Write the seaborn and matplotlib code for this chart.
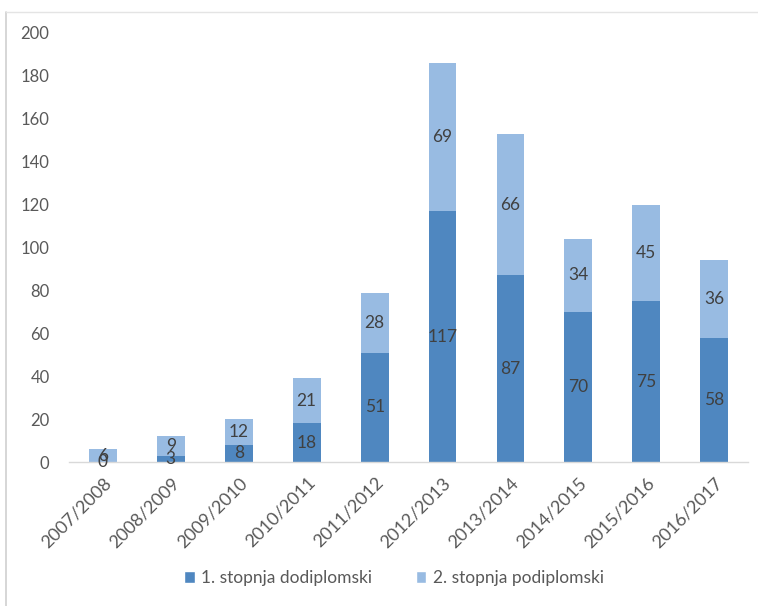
import pandas as pd
import matplotlib
matplotlib.use("Agg")
import matplotlib.pyplot as plt
from matplotlib.lines import Line2D
from matplotlib.patches import Patch
import seaborn as sns

# Chart data
years = ['2007/2008', '2008/2009', '2009/2010', '2010/2011', '2011/2012',
         '2012/2013', '2013/2014', '2014/2015', '2015/2016', '2016/2017']
dodiplomski = [0, 3, 8, 18, 51, 117, 87, 70, 75, 58]
podiplomski = [6, 9, 12, 21, 28, 69, 66, 34, 45, 36]
series_names = ['1. stopnja dodiplomski', '2. stopnja podiplomski']

dark_blue = '#4F87C0'
light_blue = '#98BBE2'

sns.set_theme(style="white")
plt.rcParams['font.family'] = ['Lato', 'DejaVu Sans']

df = pd.DataFrame({'year': years, 'dod': dodiplomski, 'pod': podiplomski})
df['total'] = df['dod'] + df['pod']

fig = plt.figure(figsize=(7.58, 6.06), dpi=100)
ax = fig.add_axes([0.091, 0.2376, 0.896, 0.708])

# stacked bars: total in light colour, first level drawn on top
sns.barplot(data=df, x='year', y='total', color=light_blue, width=0.41,
            saturation=1, linewidth=0, ax=ax)
sns.barplot(data=df, x='year', y='dod', color=dark_blue, width=0.41,
            saturation=1, linewidth=0, ax=ax)

label_color = '#404040'
for i, row in df.iterrows():
    ax.text(i, row['dod'] / 2, str(row['dod']), ha='center', va='center',
            fontsize=12.5, color=label_color)
    ax.text(i, row['dod'] + row['pod'] / 2, str(row['pod']), ha='center',
            va='center', fontsize=12.5, color=label_color)

ax.set_ylim(0, 200)
ax.set_yticks(range(0, 201, 20))
ax.set_xlim(-0.5, len(years) - 0.5)
ax.set_xlabel('')
ax.set_ylabel('')
for side in ['top', 'right', 'left']:
    ax.spines[side].set_visible(False)
ax.spines['bottom'].set_color('#D9D9D9')
ax.spines['bottom'].set_linewidth(1)
ax.tick_params(axis='both', length=0, labelcolor='#595959')
ax.tick_params(axis='y', pad=14, labelsize=12)
ax.tick_params(axis='x', pad=9, labelsize=13)
plt.setp(ax.get_xticklabels(), rotation=45, ha='right', rotation_mode='anchor')

handles = [Patch(facecolor=dark_blue, label=series_names[0]),
           Patch(facecolor=light_blue, label=series_names[1])]
fig.legend(handles=handles, loc='center', bbox_to_anchor=(0.52, 0.046),
           ncol=2, frameon=False, fontsize=12.5, handlelength=0.6,
           handleheight=0.6, handletextpad=0.4, columnspacing=2.5,
           labelcolor='#595959')

# frame of the chart area
fig.add_artist(Line2D([0.008, 0.008], [0.0, 0.98], color='#D0D0D0', lw=1.2))
fig.add_artist(Line2D([0.008, 1.0], [0.98, 0.98], color='#E4E4E4', lw=1.0))

fig.savefig('out.png', dpi=100)
